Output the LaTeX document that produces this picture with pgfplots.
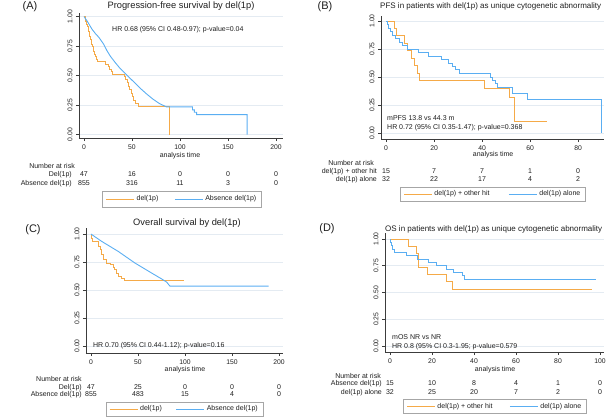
\documentclass[border=0pt]{standalone}
\usepackage{fontspec}
\setmainfont{Liberation Sans}
\usepackage{pgfplots}
\pgfplotsset{compat=1.18}
\definecolor{kmorange}{RGB}{245,170,72}
\definecolor{kmblue}{RGB}{90,174,242}
\definecolor{gridc}{RGB}{228,235,242}
\definecolor{axc}{RGB}{60,60,60}
\definecolor{txt}{RGB}{30,30,30}
\pgfplotsset{
  kmaxis/.style={
    scale only axis,
    anchor=south west,
    axis x line*=bottom,
    axis y line*=left,
    axis line style={-, axc, line width=0.6pt},
    tick align=outside,
    major tick length=3pt,
    tick style={axc, line width=0.6pt},
    ytick={0,0.25,0.5,0.75,1},
    /pgf/number format/assume math mode=true,
    yticklabel style={rotate=90, anchor=south, text=txt, font=\fontsize{6.8}{7}\selectfont,
      /pgf/number format/fixed, /pgf/number format/fixed zerofill, /pgf/number format/precision=2},
    xticklabel style={text=txt, font=\fontsize{6.8}{7}\selectfont},
    ymajorgrids,
    grid style={gridc, line width=0.6pt},
    clip=false,
    legend columns=2,
    legend style={draw=gray!70, line width=0.5pt, text=txt, font=\fontsize{7}{8}\selectfont,
      anchor=center, inner xsep=3pt, inner ysep=1.5pt},
    legend image code/.code={\draw[#1] (0pt,0pt) -- (28pt,0pt);},
  },
  orl/.style={kmorange, line width=0.9pt, no marks},
  bll/.style={kmblue, line width=0.9pt, no marks},
}
\tikzset{
  rt/.style={font=\fontsize{7}{8}\selectfont, text=txt, text height=5pt, text depth=0pt, inner sep=0pt},
}
\begin{document}
\begin{tikzpicture}
\path[use as bounding box] (0,0) rectangle (606pt,-418pt);

% ---------------- Panel A ----------------
\begin{axis}[kmaxis, at={(79pt,-138pt)}, width=204pt, height=125pt,
  xmin=-5.2, xmax=207.3, ymin=-0.028, ymax=1.03,
  xtick={0,50,100,150,200},
  legend style={at={(0.505,-0.488)}, inner ysep=2.5pt,
    /tikz/every even column/.append style={column sep=14pt}}]
\addplot[orl] coordinates {
(0,1.000)(1,1.000)(1,0.979)(2,0.979)(2,0.957)(3,0.957)(3,0.936)(3.5,0.936)(3.5,0.915)
(4.5,0.915)(4.5,0.872)(5.5,0.872)(5.5,0.830)(6.5,0.830)(6.5,0.809)(7.5,0.809)(7.5,0.766)
(8.5,0.766)(8.5,0.745)(9.5,0.745)(9.5,0.702)(10.5,0.702)(10.5,0.681)(11.5,0.681)(11.5,0.660)
(12.5,0.660)(12.5,0.638)(14.5,0.638)(14.5,0.617)(22,0.617)(22,0.596)(25,0.596)(25,0.574)
(27,0.574)(27,0.553)(29,0.553)(29,0.532)(30,0.532)(30,0.513)(42,0.513)(42,0.489)
(43.5,0.489)(43.5,0.468)(45,0.468)(45,0.440)(46,0.440)(46,0.410)(47.5,0.410)(47.5,0.380)
(49,0.380)(49,0.350)(50.5,0.350)(50.5,0.320)(52,0.320)(52,0.290)(54,0.290)(54,0.265)
(56.5,0.265)(56.5,0.236)(88.5,0.236)(88.5,0)};
\addlegendentry{del(1p)}
\addplot[bll] coordinates {
(0,1)(3.4,0.96)(8.6,0.89)(12,0.855)(15.4,0.825)(20.6,0.765)(24,0.71)(27.4,0.665)
(32.6,0.61)(37.7,0.56)(44.6,0.505)(51.5,0.45)(58.3,0.395)(65.2,0.345)(72,0.30)
(78.9,0.262)(85.8,0.236)(113,0.236)(113,0.21)(115,0.21)(115,0.19)(117.3,0.19)(117.3,0.17)
(170,0.17)(170,0)};
\addlegendentry{Absence del(1p)}
\node[rt, anchor=west] at (axis cs:29.2,0.898) {HR 0.68 (95\% CI 0.48-0.97); p-value=0.04};
\node[rt] at (axis cs:100,-0.169) {analysis time};
\node[rt, anchor=east] at (axis cs:-9.4,-0.263) {Number at risk};
\node[rt, anchor=east] at (axis cs:-12.5,-0.331) {Del(1p)};
\node[rt, anchor=east] at (axis cs:-12.5,-0.407) {Absence del(1p)};
\node[rt] at (axis cs:0,-0.331) {47};
\node[rt] at (axis cs:50,-0.331) {16};
\node[rt] at (axis cs:100,-0.331) {0};
\node[rt] at (axis cs:150,-0.331) {0};
\node[rt] at (axis cs:200,-0.331) {0};
\node[rt] at (axis cs:0,-0.407) {855};
\node[rt] at (axis cs:50,-0.407) {316};
\node[rt] at (axis cs:100,-0.407) {11};
\node[rt] at (axis cs:150,-0.407) {3};
\node[rt] at (axis cs:200,-0.407) {0};
\end{axis}

% ---------------- Panel B ----------------
\begin{axis}[kmaxis, at={(381pt,-139pt)}, width=223pt, height=123pt,
  xmin=-2.1, xmax=90.8, ymin=-0.054, ymax=1.045,
  xtick={0,20,40,60,80},
  legend style={at={(0.502,-0.448)},
    /tikz/every even column/.append style={column sep=17pt}}]
\addplot[orl] coordinates {
(0,1)(3.7,1)(3.7,0.933)(4.5,0.933)(4.5,0.867)(7.5,0.867)(7.5,0.80)(9,0.80)(9,0.733)
(10.5,0.733)(10.5,0.667)(12,0.667)(12,0.60)(13,0.60)(13,0.533)(13.8,0.533)(13.8,0.467)
(41,0.467)(41,0.40)(51.5,0.40)(51.5,0.32)(53.5,0.32)(53.5,0.107)(67,0.107)};
\addlegendentry{del(1p) + other hit}
\addplot[bll] coordinates {
(0,1)(0.5,1)(0.5,0.969)(1,0.969)(1,0.938)(1.7,0.938)(1.7,0.906)(2.5,0.906)(2.5,0.875)
(4,0.875)(4,0.844)(5.5,0.844)(5.5,0.813)(7,0.813)(7,0.781)(9,0.781)(9,0.75)(13.5,0.75)
(13.5,0.719)(17.5,0.719)(17.5,0.688)(23.2,0.688)(23.2,0.656)(26,0.656)(26,0.625)
(27.5,0.625)(27.5,0.594)(29,0.594)(29,0.563)(30.5,0.563)(30.5,0.531)(43.5,0.531)
(43.5,0.50)(44.3,0.50)(44.3,0.469)(45.5,0.469)(45.5,0.438)(46.5,0.438)(46.5,0.406)
(52.5,0.406)(52.5,0.35)(59,0.35)(59,0.295)(89.6,0.295)(89.6,0)};
\addlegendentry{del(1p) alone}
\node[rt, anchor=west] at (axis cs:0.4,0.134) {mPFS 13.8 vs 44.3 m};
\node[rt, anchor=west] at (axis cs:0.4,0.054) {HR 0.72 (95\% CI 0.35-1.47); p-value=0.368};
\node[rt] at (axis cs:44.6,-0.1875) {analysis time};
\node[rt, anchor=east] at (axis cs:-5,-0.268) {Number at risk};
\node[rt, anchor=east] at (axis cs:-3.75,-0.339) {del(1p) + other hit};
\node[rt, anchor=east] at (axis cs:-3.75,-0.411) {del(1p) alone};
\node[rt] at (axis cs:0,-0.339) {15};
\node[rt] at (axis cs:20,-0.339) {7};
\node[rt] at (axis cs:40,-0.339) {7};
\node[rt] at (axis cs:60,-0.339) {1};
\node[rt] at (axis cs:80,-0.339) {0};
\node[rt] at (axis cs:0,-0.411) {32};
\node[rt] at (axis cs:20,-0.411) {22};
\node[rt] at (axis cs:40,-0.411) {17};
\node[rt] at (axis cs:60,-0.411) {4};
\node[rt] at (axis cs:80,-0.411) {2};
\end{axis}

% ---------------- Panel C ----------------
\begin{axis}[kmaxis, at={(86pt,-353pt)}, width=197pt, height=125pt,
  xmin=-5.3, xmax=204.3, ymin=-0.0625, ymax=1.054,
  xtick={0,50,100,150,200},
  legend style={at={(0.5,-0.448)},
    /tikz/every even column/.append style={column sep=12pt}}]
\addplot[orl] coordinates {
(0,1)(0.7,1)(0.7,0.957)(1.4,0.957)(1.4,0.935)(7.8,0.935)(7.8,0.89)(9.6,0.89)(9.6,0.86)
(11.3,0.86)(11.3,0.815)(13.1,0.815)(13.1,0.77)(16.7,0.77)(16.7,0.74)(20.2,0.74)(20.2,0.725)
(24,0.725)(24,0.70)(25.5,0.70)(25.5,0.68)(27.3,0.68)(27.3,0.65)(29,0.65)(29,0.62)
(32,0.62)(32,0.605)(35.5,0.605)(35.5,0.59)(98.5,0.59)};
\addlegendentry{del(1p)}
\addplot[bll] coordinates {
(0,1)(11.3,0.935)(29,0.845)(46.8,0.741)(64.5,0.652)(75,0.60)(80.5,0.571)(84,0.535)(189,0.535)};
\addlegendentry{Absence del(1p)}
\node[rt, anchor=west] at (axis cs:2.1,0.009) {HR 0.70 (95\% CI 0.44-1.12); p-value=0.16};
\node[rt] at (axis cs:100,-0.205) {analysis time};
\node[rt, anchor=east] at (axis cs:-9.6,-0.295) {Number at risk};
\node[rt, anchor=east] at (axis cs:-9.6,-0.366) {Del(1p)};
\node[rt, anchor=east] at (axis cs:-9.6,-0.429) {Absence del(1p)};
\node[rt] at (axis cs:0,-0.366) {47};
\node[rt] at (axis cs:50,-0.366) {25};
\node[rt] at (axis cs:100,-0.366) {0};
\node[rt] at (axis cs:150,-0.366) {0};
\node[rt] at (axis cs:200,-0.366) {0};
\node[rt] at (axis cs:0,-0.429) {855};
\node[rt] at (axis cs:50,-0.429) {483};
\node[rt] at (axis cs:100,-0.429) {15};
\node[rt] at (axis cs:150,-0.429) {4};
\node[rt] at (axis cs:200,-0.429) {0};
\end{axis}

% ---------------- Panel D ----------------
\begin{axis}[kmaxis, at={(385pt,-352pt)}, width=219pt, height=119pt,
  xmin=-2.38, xmax=101.9, ymin=-0.056, ymax=1.056,
  xtick={0,20,40,60,80,100},
  legend style={at={(0.502,-0.458)},
    /tikz/every even column/.append style={column sep=15pt}}]
\addplot[orl] coordinates {
(0,1)(8.7,1)(8.7,0.933)(12.4,0.933)(12.4,0.867)(13.5,0.867)(13.5,0.733)(17.9,0.733)
(17.9,0.667)(27,0.667)(27,0.60)(29.7,0.60)(29.7,0.533)(96,0.533)};
\addlegendentry{del(1p) + other hit}
\addplot[bll] coordinates {
(0,1)(0.3,1)(0.3,0.969)(0.8,0.969)(0.8,0.938)(1.3,0.938)(1.3,0.906)(2,0.906)(2,0.875)
(8,0.875)(8,0.844)(13,0.844)(13,0.813)(18.5,0.813)(18.5,0.781)(22.2,0.781)(22.2,0.75)
(27,0.75)(27,0.719)(30.2,0.719)(30.2,0.688)(34.4,0.688)(34.4,0.656)(35.5,0.656)
(35.5,0.625)(98,0.625)};
\addlegendentry{del(1p) alone}
\node[rt, anchor=west] at (axis cs:0.95,0.084) {mOS NR vs NR};
\node[rt, anchor=west] at (axis cs:0.95,0.0) {HR 0.8 (95\% CI 0.3-1.95; p-value=0.579};
\node[rt] at (axis cs:50,-0.215) {analysis time};
\node[rt, anchor=east] at (axis cs:-4.3,-0.280) {Number at risk};
\node[rt, anchor=east] at (axis cs:-3.8,-0.346) {Absence del(1p)};
\node[rt, anchor=east] at (axis cs:-3.8,-0.430) {del(1p) alone};
\node[rt] at (axis cs:0,-0.346) {15};
\node[rt] at (axis cs:20,-0.346) {10};
\node[rt] at (axis cs:40,-0.346) {8};
\node[rt] at (axis cs:60,-0.346) {4};
\node[rt] at (axis cs:80,-0.346) {1};
\node[rt] at (axis cs:100,-0.346) {0};
\node[rt] at (axis cs:0,-0.430) {32};
\node[rt] at (axis cs:20,-0.430) {25};
\node[rt] at (axis cs:40,-0.430) {20};
\node[rt] at (axis cs:60,-0.430) {7};
\node[rt] at (axis cs:80,-0.430) {2};
\node[rt] at (axis cs:100,-0.430) {0};
\end{axis}

% ---------------- Titles and panel labels ----------------
\node[font=\fontsize{9.3}{10}\selectfont, text=txt, inner sep=0pt] at (181pt,-6pt) {Progression-free survival by del(1p)};
\node[font=\fontsize{8}{9}\selectfont, text=txt, inner sep=0pt, anchor=west] at (380pt,-6.5pt) {PFS in patients with del(1p) as unique cytogenetic abnormality};
\node[font=\fontsize{9.3}{10}\selectfont, text=txt, inner sep=0pt] at (187pt,-223pt) {Overall survival by del(1p)};
\node[font=\fontsize{8}{9}\selectfont, text=txt, inner sep=0pt, anchor=west] at (385pt,-229pt) {OS in patients with del(1p) as unique cytogenetic abnormality};
\node[font=\fontsize{11}{12}\selectfont, text=txt, inner sep=0pt] at (30pt,-7pt) {(A)};
\node[font=\fontsize{11}{12}\selectfont, text=txt, inner sep=0pt] at (325pt,-7pt) {(B)};
\node[font=\fontsize{11}{12}\selectfont, text=txt, inner sep=0pt] at (33pt,-230pt) {(C)};
\node[font=\fontsize{11}{12}\selectfont, text=txt, inner sep=0pt] at (327pt,-229pt) {(D)};
\end{tikzpicture}
\end{document}
